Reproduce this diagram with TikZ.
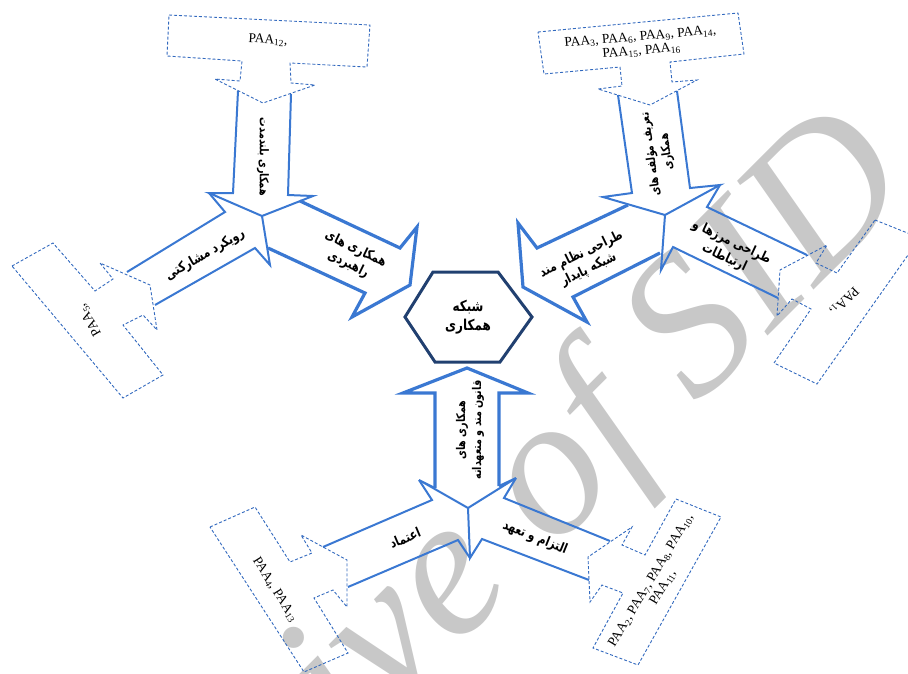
\documentclass[tikz,border=0pt]{standalone}
\usepackage{fontspec}
\setmainfont{Liberation Serif}
\newfontfamily\farsifont[Script=Arabic,FakeStretch=0.8]{DejaVu Sans}
\TeXXeTstate=1
\newcommand\fa[1]{{\farsifont\bfseries\beginR #1\endR}}
\definecolor{armblue}{RGB}{58,120,210}
\definecolor{hexblue}{RGB}{33,64,112}
\definecolor{dashblue}{RGB}{50,105,190}
\definecolor{wmgray}{RGB}{200,200,200}
\begin{document}
\begin{tikzpicture}[x=1pt,y=-1pt,
  arm/.style={draw=armblue,line width=2pt,line join=miter},
  armthick/.style={draw=armblue,line width=3.2pt,line join=miter},
  callout/.style={draw=dashblue,line width=0.9pt,dash pattern=on 3pt off 2pt},
  paa/.style={font=\fontsize{13.5}{14}\selectfont,align=center,inner sep=0pt},
  lbl/.style={font=\fontsize{13.5}{17}\selectfont,align=center,inner sep=0pt},
  vlbl/.style={font=\fontsize{12}{16}\selectfont,align=center,inner sep=0pt}]
\useasboundingbox (0,0) rectangle (908,673);
\clip (0,0) rectangle (908,673);
% watermark
\node[text=wmgray,font=\fontsize{200}{200}\selectfont\itshape,rotate=45,anchor=base east,inner sep=0pt] (wm) at (918,186) {Archive of SID};
% hexagon
\draw[hexblue,line width=3pt,line join=miter] (405,317)--(433,272)--(498,272)--(532,317)--(500,362)--(435,362)--cycle;
\node[lbl,font=\fontsize{15}{19}\selectfont] (hex) at (468,317) {\fa{شبکه}\\\fa{همکاری}};
% ---------- group 1 (top left)
\coordinate (J1) at (262,216);
\draw[arm] (238,91)--(233,193)--(209,193)--(J1)--(313,196)--(288,195)--(291,94);
\draw[arm] (209,193)--(225,212)--(127,272);
\draw[arm] (155,305)--(255,248)--(270,265)--(J1);
\draw[armthick] (300,201)--(400,248)--(417,227)--(410,285)--(352,317)--(365,293)--(268,248);
\draw[callout] (169,15)--(370,25)--(367,67)--(290,63)--(291,83)--(315,85)--(263,103)--(215,79)--(240,81)--(242,61)--(167,56)--cycle;
\draw[callout] (12,266)--(53,243)--(95,291)--(113,279)--(100,263)--(150,285)--(157,330)--(143,315)--(123,325)--(163,375)--(123,398)--cycle;
\node[paa,rotate=-3] (t12) at (268,40) {PAA\textsubscript{12},};
\node[paa,rotate=120] (t5) at (90,320) {PAA\textsubscript{5},};
\node[vlbl,rotate=-90] (l1) at (263,157) {\fa{همکاری بلندمدت}};
\node[lbl,rotate=30] (l2) at (205,255) {\fa{رویکرد مشارکتی}};
\node[lbl,rotate=-26] (l3) at (352,257) {\fa{همکاری های}\\\fa{راهبردی}};
% ---------- group 2 (top right)
\coordinate (J2) at (665,215);
\draw[arm] (618,95)--(632,193)--(603,197)--(J2)--(720,185)--(690,188)--(677,91);
\draw[armthick] (628,205)--(537,248)--(518,223)--(523,287)--(587,322)--(573,297)--(660,253);
\draw[arm] (720,185)--(707,207)--(807,255);
\draw[arm] (778,298)--(673,247)--(661,270)--(J2);
\draw[callout] (538,32)--(738,13)--(744,54)--(670,62)--(672,82)--(697,80)--(650,105)--(598,89)--(622,86)--(620,67)--(544,74)--cycle;
\draw[callout] (875,220)--(920,238)--(817,384)--(774,363)--(811,309)--(792,299)--(777,316)--(780,270)--(827,245)--(816,263)--(837,273)--cycle;
\node[paa,rotate=5] (t3) at (641,44) {PAA\textsubscript{3}, PAA\textsubscript{6}, PAA\textsubscript{9}, PAA\textsubscript{14},\\PAA\textsubscript{15}, PAA\textsubscript{16}};
\node[paa,rotate=-135] (t1) at (844,301) {PAA\textsubscript{1},};
\node[vlbl,rotate=98] (l4) at (659,153) {\fa{تعریف مؤلفه های}\\\fa{همکاری}};
\node[lbl,rotate=26] (l5) at (585,262) {\fa{طراحی نظام مند}\\\fa{شبکه پایدار}};
\node[lbl,rotate=-25] (l6) at (728,250) {\fa{طراحی مرزها و}\\\fa{ارتباطات}};
% ---------- group 3 (bottom)
\coordinate (J3) at (468,508);
\draw[armthick] (435,488)--(435,393)--(403,393)--(467,368)--(528,393)--(499,393)--(499,486);
\draw[arm] (435,488)--(419,480)--(J3)--(516,478)--(499,486);
\draw[arm] (419,480)--(432,500)--(323,547);
\draw[arm] (348,587)--(458,540)--(470,558);
\draw[arm] (516,478)--(504,498)--(610,541);
\draw[arm] (589,580)--(482,539)--(470,558)--(J3);
\draw[callout] (210,527)--(255,507)--(290,562)--(312,553)--(301,535)--(347,560)--(347,607)--(333,590)--(314,598)--(348,653)--(304,672)--cycle;
\draw[callout] (676,499)--(721,517)--(638,665)--(593,648)--(623,593)--(602,585)--(590,602)--(588,557)--(632,527)--(622,545)--(645,555)--cycle;
\node[paa,rotate=-58] (t4) at (275,590) {PAA\textsubscript{4}, PAA\textsubscript{13}};
\node[paa,rotate=59] (t2) at (657,584) {PAA\textsubscript{2}, PAA\textsubscript{7}, PAA\textsubscript{8}, PAA\textsubscript{10},\\PAA\textsubscript{11},};
\node[vlbl,rotate=90] (l7) at (470,430) {\fa{همکاری های}\\\fa{قانون مند و متعهدانه}};
\node[lbl,rotate=23] (l8) at (405,538) {\fa{اعتماد}};
\node[lbl,rotate=-22] (l9) at (535,538) {\fa{التزام و تعهد}};
\end{tikzpicture}
\end{document}
